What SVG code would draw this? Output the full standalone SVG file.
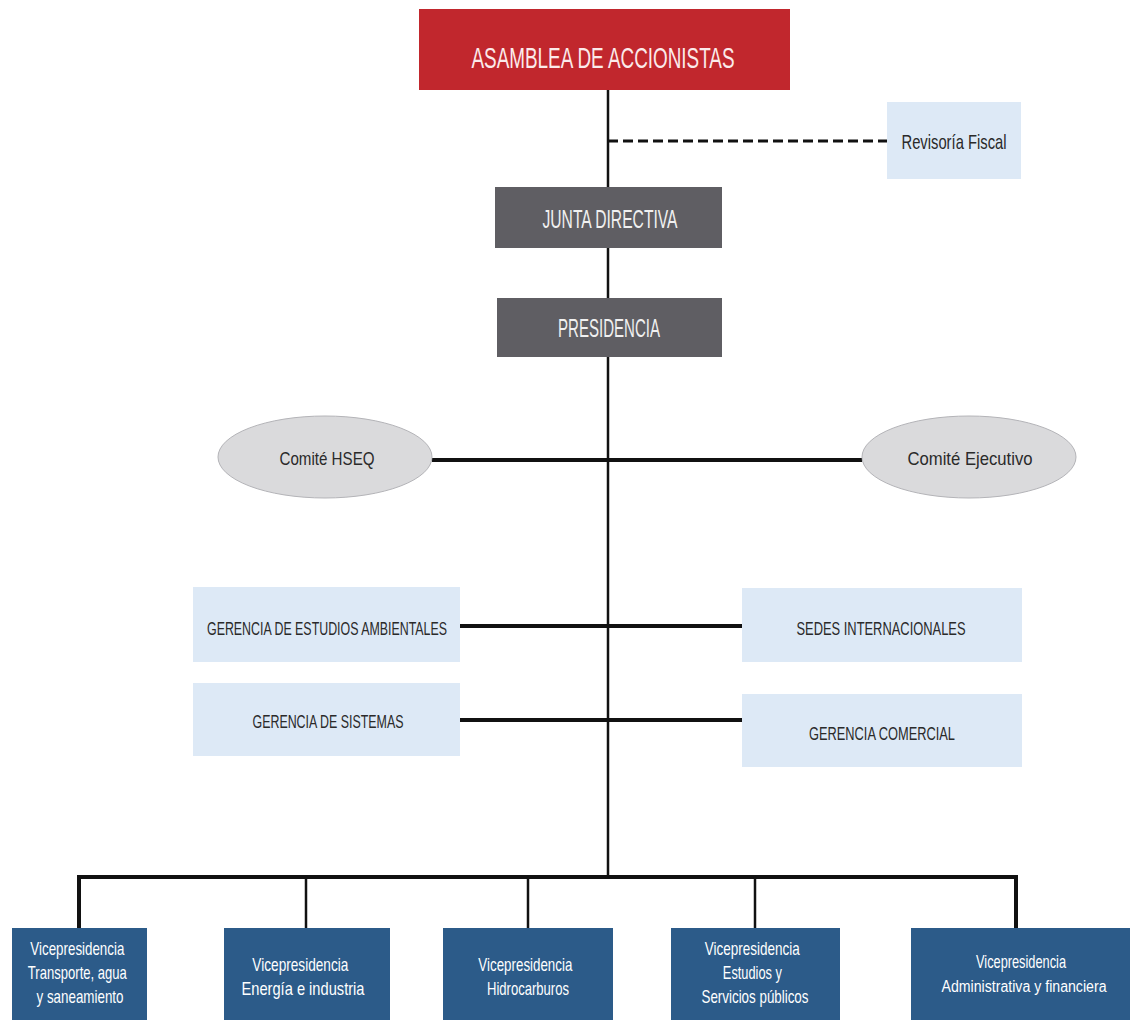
<svg xmlns="http://www.w3.org/2000/svg" width="1130" height="1020" viewBox="0 0 1130 1020">
  <style>
    .lbl { font-family: "Liberation Sans", "DejaVu Sans Condensed", sans-serif; text-anchor: middle; }
    .red { fill: #c1272d; }
    .gray { fill: #5f5e63; }
    .pale { fill: #dde9f6; }
    .navy { fill: #2c5b89; }
    .oval { fill: #dadadc; stroke: #b4b4b8; stroke-width: 1; }
    .wt { fill: #ffffff; }
    .dk { fill: #2a2a2a; }
    .ln { stroke: #111111; stroke-width: 2.5; fill: none; }
    .thick { stroke: #111111; stroke-width: 4; fill: none; }
  </style>
  <rect width="1130" height="1020" fill="#ffffff"/>

  <!-- connectors -->
  <g id="connectors">
    <line class="ln" x1="608" y1="90" x2="608" y2="877"/>
    <line x1="608" y1="141" x2="887" y2="141" stroke="#111" stroke-width="3" stroke-dasharray="10,5"/>
    <line class="thick" x1="432" y1="460" x2="862" y2="460"/>
    <line class="thick" x1="459" y1="626" x2="742" y2="626"/>
    <line class="thick" x1="459" y1="720" x2="742" y2="720"/>
    <path class="thick" d="M79,928 V877 H1016 V928"/>
    <line class="ln" x1="306" y1="877" x2="306" y2="928"/>
    <line class="ln" x1="528" y1="877" x2="528" y2="928"/>
    <line class="ln" x1="755" y1="877" x2="755" y2="928"/>
  </g>

  <g id="asamblea">
    <rect class="red" x="419" y="9" width="371" height="81"/>
    <text class="lbl" x="603" y="68" font-size="29" fill="#fbeaea" textLength="263" lengthAdjust="spacingAndGlyphs">ASAMBLEA DE ACCIONISTAS</text>
  </g>

  <g id="revisoria">
    <rect class="pale" x="887" y="102" width="134" height="77"/>
    <text class="lbl dk" x="954" y="149" font-size="21" textLength="105" lengthAdjust="spacingAndGlyphs">Revisoría Fiscal</text>
  </g>

  <g id="junta">
    <rect class="gray" x="495" y="187" width="227" height="61"/>
    <text class="lbl" x="610" y="228" font-size="25" fill="#f0f0f0" textLength="135" lengthAdjust="spacingAndGlyphs">JUNTA DIRECTIVA</text>
  </g>

  <g id="presidencia">
    <rect class="gray" x="497" y="298" width="225" height="59"/>
    <text class="lbl" x="609" y="337" font-size="25" fill="#f0f0f0" textLength="102" lengthAdjust="spacingAndGlyphs">PRESIDENCIA</text>
  </g>

  <g id="comite-hseq">
    <ellipse class="oval" cx="325" cy="457" rx="107" ry="41"/>
    <text class="lbl dk" x="327" y="465" font-size="19" textLength="95" lengthAdjust="spacingAndGlyphs">Comité HSEQ</text>
  </g>

  <g id="comite-ejecutivo">
    <ellipse class="oval" cx="969" cy="457" rx="107" ry="41"/>
    <text class="lbl dk" x="970" y="465" font-size="19" textLength="125" lengthAdjust="spacingAndGlyphs">Comité Ejecutivo</text>
  </g>

  <g id="gerencia-ambientales">
    <rect class="pale" x="193" y="587" width="267" height="75"/>
    <text class="lbl dk" x="327" y="635" font-size="19" textLength="240" lengthAdjust="spacingAndGlyphs">GERENCIA DE ESTUDIOS AMBIENTALES</text>
  </g>

  <g id="sedes">
    <rect class="pale" x="742" y="588" width="280" height="74"/>
    <text class="lbl dk" x="881" y="635" font-size="19" textLength="169" lengthAdjust="spacingAndGlyphs">SEDES INTERNACIONALES</text>
  </g>

  <g id="gerencia-sistemas">
    <rect class="pale" x="193" y="683" width="267" height="73"/>
    <text class="lbl dk" x="328" y="728" font-size="19" textLength="151" lengthAdjust="spacingAndGlyphs">GERENCIA DE SISTEMAS</text>
  </g>

  <g id="gerencia-comercial">
    <rect class="pale" x="742" y="694" width="280" height="73"/>
    <text class="lbl dk" x="882" y="740" font-size="19" textLength="146" lengthAdjust="spacingAndGlyphs">GERENCIA COMERCIAL</text>
  </g>

  <g id="vp-transporte">
    <rect class="navy" x="12" y="928" width="135" height="94"/>
    <text class="lbl wt" font-size="19">
      <tspan x="80" y="955" textLength="94" lengthAdjust="spacingAndGlyphs">Vicepresidencia</tspan>
      <tspan x="80" y="979" textLength="99" lengthAdjust="spacingAndGlyphs">Transporte, agua</tspan>
      <tspan x="80" y="1003" textLength="87" lengthAdjust="spacingAndGlyphs">y saneamiento</tspan>
    </text>
  </g>

  <g id="vp-energia">
    <rect class="navy" x="224" y="928" width="166" height="94"/>
    <text class="lbl wt" font-size="19">
      <tspan x="303" y="971" textLength="96" lengthAdjust="spacingAndGlyphs">Vicepresidencia</tspan>
      <tspan x="303" y="995" textLength="123" lengthAdjust="spacingAndGlyphs">Energía e industria</tspan>
    </text>
  </g>

  <g id="vp-hidrocarburos">
    <rect class="navy" x="443" y="928" width="170" height="94"/>
    <text class="lbl wt" font-size="19">
      <tspan x="528" y="971" textLength="94" lengthAdjust="spacingAndGlyphs">Vicepresidencia</tspan>
      <tspan x="528" y="995" textLength="82" lengthAdjust="spacingAndGlyphs">Hidrocarburos</tspan>
    </text>
  </g>

  <g id="vp-estudios">
    <rect class="navy" x="671" y="928" width="169" height="94"/>
    <text class="lbl wt" font-size="19">
      <tspan x="755" y="955" textLength="95" lengthAdjust="spacingAndGlyphs">Vicepresidencia</tspan>
      <tspan x="755" y="979" textLength="59" lengthAdjust="spacingAndGlyphs">Estudios y</tspan>
      <tspan x="755" y="1003" textLength="107" lengthAdjust="spacingAndGlyphs">Servicios públicos</tspan>
    </text>
  </g>

  <g id="vp-administrativa">
    <rect class="navy" x="911" y="928" width="219" height="94"/>
    <text class="lbl wt" font-size="19">
      <tspan x="1021" y="968" textLength="90" lengthAdjust="spacingAndGlyphs">Vicepresidencia</tspan>
    </text>
    <text class="lbl wt" font-size="16">
      <tspan x="1024" y="992" textLength="165" lengthAdjust="spacingAndGlyphs">Administrativa y financiera</tspan>
    </text>
  </g>
</svg>
